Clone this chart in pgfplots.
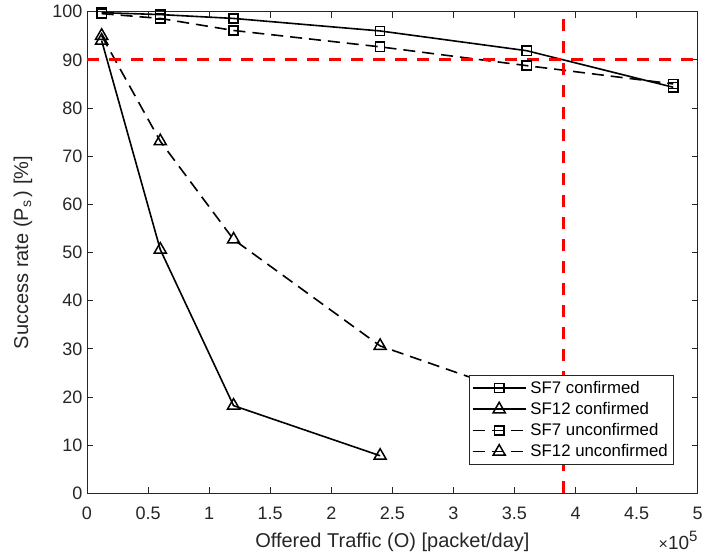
\documentclass[border=0pt]{standalone}
\usepackage{pgfplots}
\pgfplotsset{compat=1.18}
\usepackage{fontspec}
\setmainfont{Liberation Sans}

\definecolor{axisgray}{gray}{0.15}

\begin{document}
\begin{tikzpicture}
\begin{axis}[
  scale only axis,
  width=610.7pt, height=481.6pt,
  xmin=0, xmax=5, ymin=0, ymax=100,
  xtick={0,0.5,...,5}, ytick={0,10,...,100},
  xticklabels={0,0.5,1,1.5,2,2.5,3,3.5,4,4.5,5},
  scaled x ticks=false,
  /pgf/number format/assume math mode=true,
  tick align=inside,
  major tick length=6pt,
  axis line style={axisgray, line width=0.8pt},
  every tick/.style={axisgray, line width=0.8pt},
  ticklabel style={font=\fontsize{18}{18}\selectfont, text=axisgray},
  xticklabel style={yshift=-10pt},
  yticklabel style={xshift=-1pt},
  label style={font=\fontsize{20}{20}\selectfont, text=axisgray},
  xlabel={Offered Traffic (O) [packet/day]},
  ylabel={Success rate (P\textsubscript{s}\,) [\%]},
  xlabel style={at={(axis description cs:0.5,-0.1121)}, anchor=base},
  ylabel style={at={(axis description cs:-0.0966,0.5)}, anchor=base},
  legend style={
    at={(0.625,0.2455)}, anchor=north west,
    draw=axisgray, fill=white,
    font=\fontsize{16.8}{16.8}\selectfont,
    row sep=3.5pt, column sep=2pt, inner xsep=3pt, inner ysep=4pt,
    nodes={inner sep=2pt}
  },
  legend cell align=left,
  legend image code/.code={
    \draw[#1, line width=1.6pt, mark repeat=2, mark phase=2]
      plot coordinates {(0pt,0pt) (26.5pt,0pt) (53pt,0pt)};
  },
  every axis plot/.append style={black, line width=1.6pt},
]
% SF7, confirmed traffic
\addplot[solid, mark=square, mark size=4.6pt, mark options={solid, line width=1.5pt}]
  coordinates {(0.12,99.8) (0.6,99.4) (1.2,98.6) (2.4,96.0) (3.6,91.9) (4.8,84.3)};
\addlegendentry{SF7 confirmed}
% SF12, confirmed traffic
\addplot[solid, mark=triangle, mark size=7pt, mark options={solid, line width=1.5pt}]
  coordinates {(0.12,94.0) (0.6,50.6) (1.2,18.2) (2.4,7.8)};
\addlegendentry{SF12 confirmed}
% SF7, unconfirmed traffic
\addplot[dash pattern=on 12pt off 7pt, mark=square, mark size=4.6pt, mark options={solid, line width=1.5pt}]
  coordinates {(0.12,99.6) (0.6,98.6) (1.2,96.1) (2.4,92.7) (3.6,88.8) (4.8,85.0)};
\addlegendentry{SF7 unconfirmed}
% SF12, unconfirmed traffic
\addplot[dash pattern=on 12pt off 7pt, mark=triangle, mark size=7pt, mark options={solid, line width=1.5pt}]
  coordinates {(0.12,95.0) (0.6,73.1) (1.2,52.7) (2.4,30.6) (3.6,20.0)};
\addlegendentry{SF12 unconfirmed}
% 90 % target and the traffic where it is reached
\addplot[red, line width=3pt, dash pattern=on 12pt off 10pt, forget plot]
  coordinates {(0,90) (5,90)};
\addplot[red, line width=3pt, dash pattern=on 12pt off 10pt, forget plot]
  coordinates {(3.9,0) (3.9,100)};
\end{axis}
\node[anchor=base east, text=axisgray, font=\fontsize{19}{19}\selectfont, inner sep=0pt]
  at ([yshift=-56pt]current axis.south east)
  {{\fontsize{16}{16}\selectfont ×}10\raisebox{7.5pt}{\fontsize{15}{15}\selectfont 5}};
\pgfresetboundingbox
\path ([shift={(-87pt,-64.7pt)}]current axis.south west)
  rectangle ([shift={(5.3pt,11.7pt)}]current axis.north east);
\end{tikzpicture}
\end{document}
